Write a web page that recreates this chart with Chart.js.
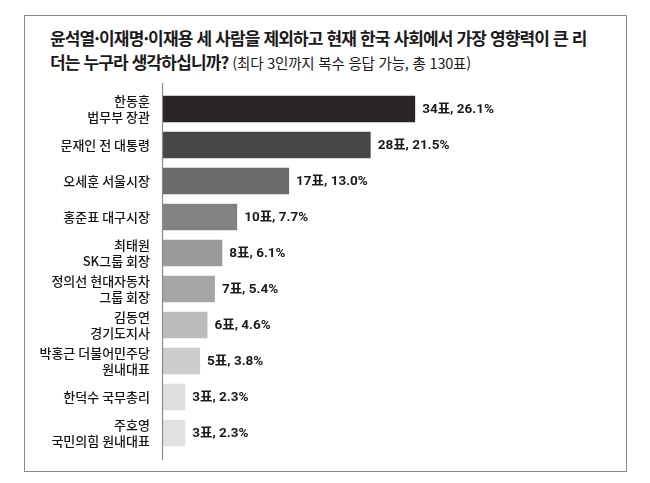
<!DOCTYPE html>
<html lang="ko">
  <head>
    <meta charset="UTF-8" />
    <title>영향력 있는 리더</title>
    <script src="https://cdnjs.cloudflare.com/ajax/libs/Chart.js/4.4.1/chart.umd.min.js"></script>
    <style>
      body {
        margin: 0;
        background: #fff;
        width: 650px;
        height: 483px;
        position: relative;
        overflow: hidden;
      }
      .frame {
        position: absolute;
        left: 24px;
        top: 15px;
        width: 601px;
        height: 455px;
        border: 1.5px solid #8a8a8a;
      }
      .title {
        position: absolute;
        left: 50px;
        top: 26px;
        font-family: "Noto Sans CJK KR", sans-serif;
        font-weight: 700;
        font-size: 17px;
        line-height: 24px;
        letter-spacing: -0.85px;
        color: #1a1a1a;
        white-space: nowrap;
      }
      .title .sub {
        font-weight: 400;
        font-size: 14.5px;
        letter-spacing: -0.2px;
      }
      #chart {
        position: absolute;
        left: 0;
        top: 0;
      }
    </style>
  </head>
  <body>
    <div class="frame"></div>
    <div class="title">
      윤석열·이재명·이재용 세 사람을 제외하고 현재 한국 사회에서 가장 영향력이 큰 리<br />
      더는 누구라 생각하십니까? <span class="sub">(최다 3인까지 복수 응답 가능, 총 130표)</span>
    </div>
    <div style="position:absolute;left:0;top:0;width:650px;height:483px">
      <canvas id="chart"></canvas>
    </div>

    <script>
      const names = [
        ["한동훈", "법무부 장관"],
        "문재인 전 대통령",
        "오세훈 서울시장",
        "홍준표 대구시장",
        ["최태원", "SK그룹 회장"],
        ["정의선 현대자동차", "그룹 회장"],
        ["김동연", "경기도지사"],
        ["박홍근 더불어민주당", "원내대표"],
        "한덕수 국무총리",
        ["주호영", "국민의힘 원내대표"],
      ];
      const votes = [34, 28, 17, 10, 8, 7, 6, 5, 3, 3];
      const shares = ["26.1", "21.5", "13.0", "7.7", "6.1", "5.4", "4.6", "3.8", "2.3", "2.3"];
      const barColors = ["#2b2526", "#474747", "#6a6a6a", "#828282", "#9b9b9b", "#a6a6a6", "#bcbcbc", "#cdcdcd", "#dedede", "#e1e1e1"];

      // value text after each bar
      const valueLabels = {
        id: "valueLabels",
        afterDatasetsDraw(chart) {
          const ctx = chart.ctx;
          const meta = chart.getDatasetMeta(0);
          ctx.save();
          ctx.font = "bold 13.5px Roboto, 'Noto Sans CJK KR'";
          ctx.fillStyle = "#1a1a1a";
          ctx.textBaseline = "middle";
          meta.data.forEach((bar, i) => {
            ctx.fillText(votes[i] + "표, " + shares[i] + "%", bar.x + 7, bar.y + 1);
          });
          ctx.restore();
        },
      };

      // vertical axis line, a bit longer than the bars area
      const axisLine = {
        id: "axisLine",
        afterDraw(chart) {
          const { ctx, chartArea } = chart;
          ctx.save();
          ctx.strokeStyle = "#8c8c8c";
          ctx.lineWidth = 1.2;
          ctx.beginPath();
          ctx.moveTo(chartArea.left - 0.5, chartArea.top - 8);
          ctx.lineTo(chartArea.left - 0.5, chartArea.bottom + 9);
          ctx.stroke();
          ctx.restore();
        },
      };

      new Chart(document.getElementById("chart"), {
        type: "bar",
        data: {
          labels: names,
          datasets: [
            {
              data: votes,
              backgroundColor: barColors,
              categoryPercentage: 1,
              barPercentage: 0.74,
            },
          ],
        },
        options: {
          indexAxis: "y",
          responsive: true,
          maintainAspectRatio: false,
          animation: false,
          layout: { padding: { left: 0, top: 91, right: 42, bottom: 32 } },
          plugins: { legend: { display: false }, tooltip: { enabled: false } },
          scales: {
            x: { display: false, min: 0, max: 60 },
            y: {
              afterFit(scale) {
                scale.width = 163;
              },
              grid: { display: false, drawTicks: false },
              border: { display: false },
              ticks: {
                padding: 13,
                color: "#151515",
                font: { family: "'Noto Sans CJK KR'", size: 13, weight: 500, lineHeight: 1.25 },
              },
            },
          },
        },
        plugins: [valueLabels, axisLine],
      });
    </script>
  </body>
</html>
